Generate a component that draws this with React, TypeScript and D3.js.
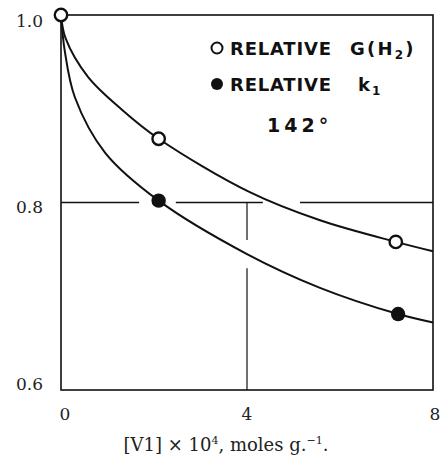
import React from "react";
import * as d3 from "d3";

// ---- data ----
const xTicks = [0, 4, 8];
const yTicks = [0.6, 0.8, 1.0];
const yTickLabels = ["0.6", "0.8", "1.0"];

// measured points
const gH2X = [0, 2.1, 7.2];
const gH2Y = [1.0, 0.868, 0.758];
const k1X = [2.1, 7.25];
const k1Y = [0.802, 0.681];

// smooth fitted curves
const upperCurveX = [0, 0.1, 0.58, 1.31, 2.1, 4.06, 5.57, 7.2, 8];
const upperCurveY = [1.0, 0.975, 0.934, 0.899, 0.868, 0.811, 0.781, 0.758, 0.748];
const lowerCurveX = [0, 0.08, 0.3, 0.95, 2.1, 4.0, 5.57, 7.25, 8];
const lowerCurveY = [1.0, 0.962, 0.912, 0.853, 0.802, 0.745, 0.709, 0.681, 0.672];

// reference lines (with breaks where curves cross)
const hLineY = 0.8;
const hLineSegments: [number, number][] = [[0, 1.68], [2.47, 4.34], [5.14, 8]];
const vLineX = 4;
const vLineSegments: [number, number][] = [[0.8, 0.76], [0.73, 0.6]];

export default function App() {
  const W = 440, H = 458;
  const left = 61, right = 433, top = 15, bottom = 390;
  const x = d3.scaleLinear().domain([0, 8]).range([left, right]);
  const y = d3.scaleLinear().domain([0.6, 1.0]).range([bottom, top]);

  const line = d3
    .line<[number, number]>()
    .x((d) => x(d[0]))
    .y((d) => y(d[1]))
    .curve(d3.curveCatmullRom.alpha(0.5));

  const upper = line(upperCurveX.map((v, i) => [v, upperCurveY[i]] as [number, number])) || "";
  const lower = line(lowerCurveX.map((v, i) => [v, lowerCurveY[i]] as [number, number])) || "";

  const serif = "'DejaVu Serif', 'Liberation Serif', serif";
  const sans = "'DejaVu Sans', 'Liberation Sans', sans-serif";
  const labelOffsets = [0, 10, 12];

  return (
    <svg
      width={W}
      height={H}
      style={{ position: "absolute", left: 0, top: 0, background: "#fff" }}
    >
      {/* frame */}
      <rect x={left} y={top} width={right - left} height={bottom - top} fill="none" stroke="#111" strokeWidth={1.6} />

      {/* reference lines */}
      {hLineSegments.map((s, i) => (
        <line key={"h" + i} x1={x(s[0])} x2={x(s[1])} y1={y(hLineY)} y2={y(hLineY)} stroke="#111" strokeWidth={1.4} />
      ))}
      {vLineSegments.map((s, i) => (
        <line key={"v" + i} x1={x(vLineX)} x2={x(vLineX)} y1={y(s[0])} y2={y(s[1])} stroke="#111" strokeWidth={1.2} />
      ))}

      {/* curves */}
      <path d={upper} fill="none" stroke="#111" strokeWidth={2} />
      <path d={lower} fill="none" stroke="#111" strokeWidth={2} />

      {/* markers */}
      {gH2X.map((v, i) => (
        <circle key={"o" + i} cx={x(v)} cy={y(gH2Y[i])} r={6.2} fill="#fff" stroke="#111" strokeWidth={2.4} />
      ))}
      {k1X.map((v, i) => (
        <circle key={"f" + i} cx={x(v)} cy={y(k1Y[i])} r={7.2} fill="#111" />
      ))}

      {/* y tick labels */}
      {yTicks.map((t, i) => (
        <text key={"yt" + i} x={43} y={y(t) + labelOffsets[i]} textAnchor="end" fontFamily={serif} fontSize={17} fill="#222">
          {yTickLabels[i]}
        </text>
      ))}
      {/* x tick labels */}
      {xTicks.map((t, i) => (
        <text key={"xt" + i} x={x(t) + (i === 0 ? 4 : i === 2 ? 2 : 0)} y={420} textAnchor="middle" fontFamily={serif} fontSize={17} fill="#222">
          {String(t)}
        </text>
      ))}

      {/* axis title */}
      <text x={226} y={451} textAnchor="middle" fontFamily={serif} fontSize={18} fill="#222">
        [V1] × 10<tspan dy={-7} fontSize={11}>4</tspan>
        <tspan dy={7}>, moles g.</tspan>
        <tspan dy={-7} fontSize={11}>−1</tspan>
        <tspan dy={7}>.</tspan>
      </text>

      {/* legend */}
      <circle cx={217} cy={48} r={5.5} fill="#fff" stroke="#111" strokeWidth={2} />
      <text x={230} y={55} fontFamily={sans} fontWeight={700} fontSize={18} fill="#111" letterSpacing={0.8}>
        RELATIVE
      </text>
      <text x={350} y={55} fontFamily={sans} fontWeight={700} fontSize={18} fill="#111" letterSpacing={2.2}>
        G(H<tspan dy={4} fontSize={12}>2</tspan><tspan dy={-4}>)</tspan>
      </text>
      <circle cx={217} cy={84} r={6} fill="#111" />
      <text x={230} y={91} fontFamily={sans} fontWeight={700} fontSize={18} fill="#111" letterSpacing={0.8}>
        RELATIVE
      </text>
      <text x={358} y={91} fontFamily={sans} fontWeight={700} fontSize={18} fill="#111" letterSpacing={2}>
        k<tspan dy={4} fontSize={12}>1</tspan>
      </text>
      <text x={267} y={132} fontFamily={sans} fontWeight={700} fontSize={19} fill="#111" letterSpacing={4}>
        142°
      </text>
    </svg>
  );
}
